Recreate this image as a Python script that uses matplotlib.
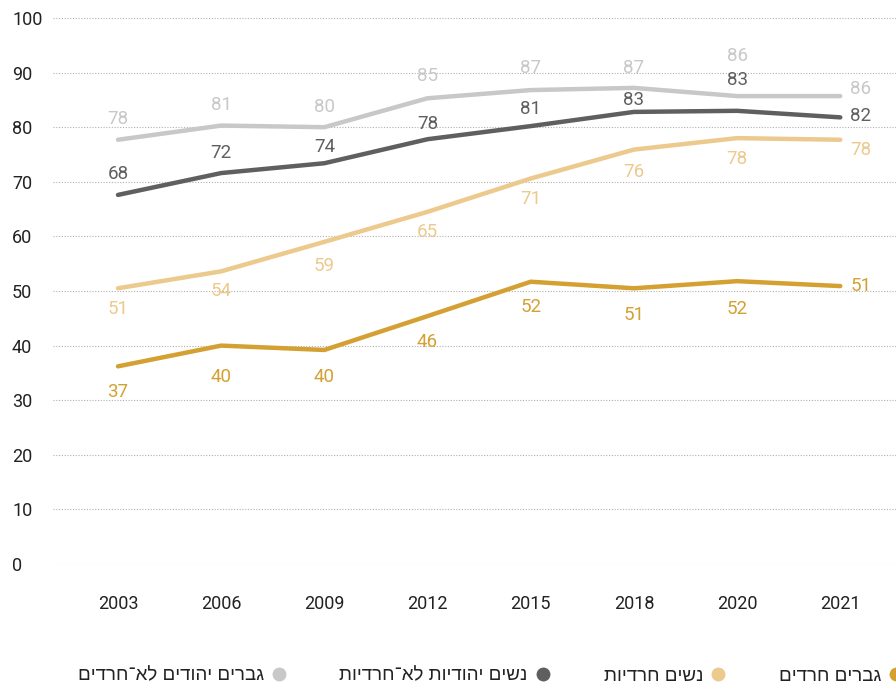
import matplotlib

matplotlib.use("Agg")
import matplotlib.pyplot as plt  # noqa: E402
from matplotlib.lines import Line2D  # noqa: E402

years = ["2003", "2006", "2009", "2012", "2015", "2018", "2020", "2021"]

# series values (line positions) and the printed labels
men_non_haredi = [77.7, 80.3, 80.0, 85.3, 86.8, 87.2, 85.7, 85.7]
women_non_haredi = [67.6, 71.6, 73.4, 77.8, 80.2, 82.8, 83.0, 81.8]
women_haredi = [50.5, 53.6, 59.0, 64.5, 70.6, 75.9, 78.0, 77.7]
men_haredi = [36.2, 40.0, 39.2, 45.4, 51.7, 50.5, 51.8, 50.9]

men_non_haredi_lbl = [78, 81, 80, 85, 87, 87, 86, 86]
women_non_haredi_lbl = [68, 72, 74, 78, 81, 83, 83, 82]
women_haredi_lbl = [51, 54, 59, 65, 71, 76, 78, 78]
men_haredi_lbl = [37, 40, 40, 46, 52, 51, 52, 51]

names = {
    "men_non_haredi": "גברים יהודים לא־חרדים",
    "women_non_haredi": "נשים יהודיות לא־חרדיות",
    "women_haredi": "נשים חרדיות",
    "men_haredi": "גברים חרדים",
}

yticks = list(range(0, 101, 10))

# label vertical offsets in pixels (positive = above the point)
PX = 0.72  # points per pixel at dpi=100
series = [
    ("men_non_haredi", men_non_haredi, men_non_haredi_lbl, "#c8c8c8",
     [21, 21, 20, 22, 22, 20, 40], 7),
    ("women_non_haredi", women_non_haredi, women_non_haredi_lbl, "#5f5f5f",
     [21, 20, 16, 15, 17, 12, 31], 1),
    ("women_haredi", women_haredi, women_haredi_lbl, "#ecc98c",
     [-21, -20, -24, -20, -20, -22, -21], -10),
    ("men_haredi", men_haredi, men_haredi_lbl, "#d4a032",
     [-26, -31, -27, -26, -25, -27, -28], 0),
]

NUM_FONT = ["Roboto", "DejaVu Sans"]
HEB_FONT = ["Liberation Sans", "DejaVu Sans"]

fig = plt.figure(figsize=(8.96, 6.87), dpi=100)
ax = fig.add_axes([53 / 896, 1 - 564 / 687, 843 / 896, (564 - 18) / 687])

x = list(range(len(years)))
handles = {}
for key, vals, lbls, color, offs, end_off in series:
    (ln,) = ax.plot(x, vals, color=color, lw=3.2, solid_capstyle="round",
                    solid_joinstyle="round", clip_on=False, zorder=3)
    handles[key] = color
    for i in range(len(years) - 1):
        ax.annotate(str(lbls[i]), (x[i], vals[i]), xytext=(0, offs[i] * PX),
                    textcoords="offset points", ha="center", va="center",
                    color=color, fontsize=13.5, family=NUM_FONT)
    ax.annotate(str(lbls[-1]), (x[-1], vals[-1]), xytext=(10 * PX, end_off * PX),
                textcoords="offset points", ha="left", va="center",
                color=color, fontsize=13.5, family=NUM_FONT)

ax.set_xlim(-0.63, 7.54)
ax.set_ylim(0, 100)
ax.set_xticks(x)
ax.set_xticklabels(years, fontsize=13, family=NUM_FONT, color="#222222")
ax.set_yticks(yticks)
ax.set_yticklabels([str(t) for t in yticks], fontsize=13, family=NUM_FONT,
                   color="#222222", ha="left")
ax.tick_params(axis="y", length=0, pad=41 * PX)
ax.tick_params(axis="x", length=0, pad=31 * PX)
ax.yaxis.grid(True, linestyle=(0, (1, 1.5)), color="#b0b0b0", lw=0.8)
ax.set_axisbelow(True)
for s in ax.spines.values():
    s.set_visible(False)

order = ["men_non_haredi", "women_non_haredi", "women_haredi", "men_haredi"]
leg_handles = [Line2D([], [], ls="none", marker="o", ms=10, color=handles[k],
                      markeredgewidth=0) for k in order]
leg_labels = [names[k][::-1] for k in order]
leg = fig.legend(leg_handles, leg_labels, ncol=4, markerfirst=False,
                 loc="center right", bbox_to_anchor=(903 / 896, 1 - 676 / 687),
                 frameon=False, handlelength=0.7, handletextpad=0.45,
                 columnspacing=2.9, borderpad=0, borderaxespad=0,
                 prop={"family": HEB_FONT, "size": 13.5})
for t in leg.get_texts():
    t.set_color("#222222")

fig.savefig("out.png", dpi=100)
